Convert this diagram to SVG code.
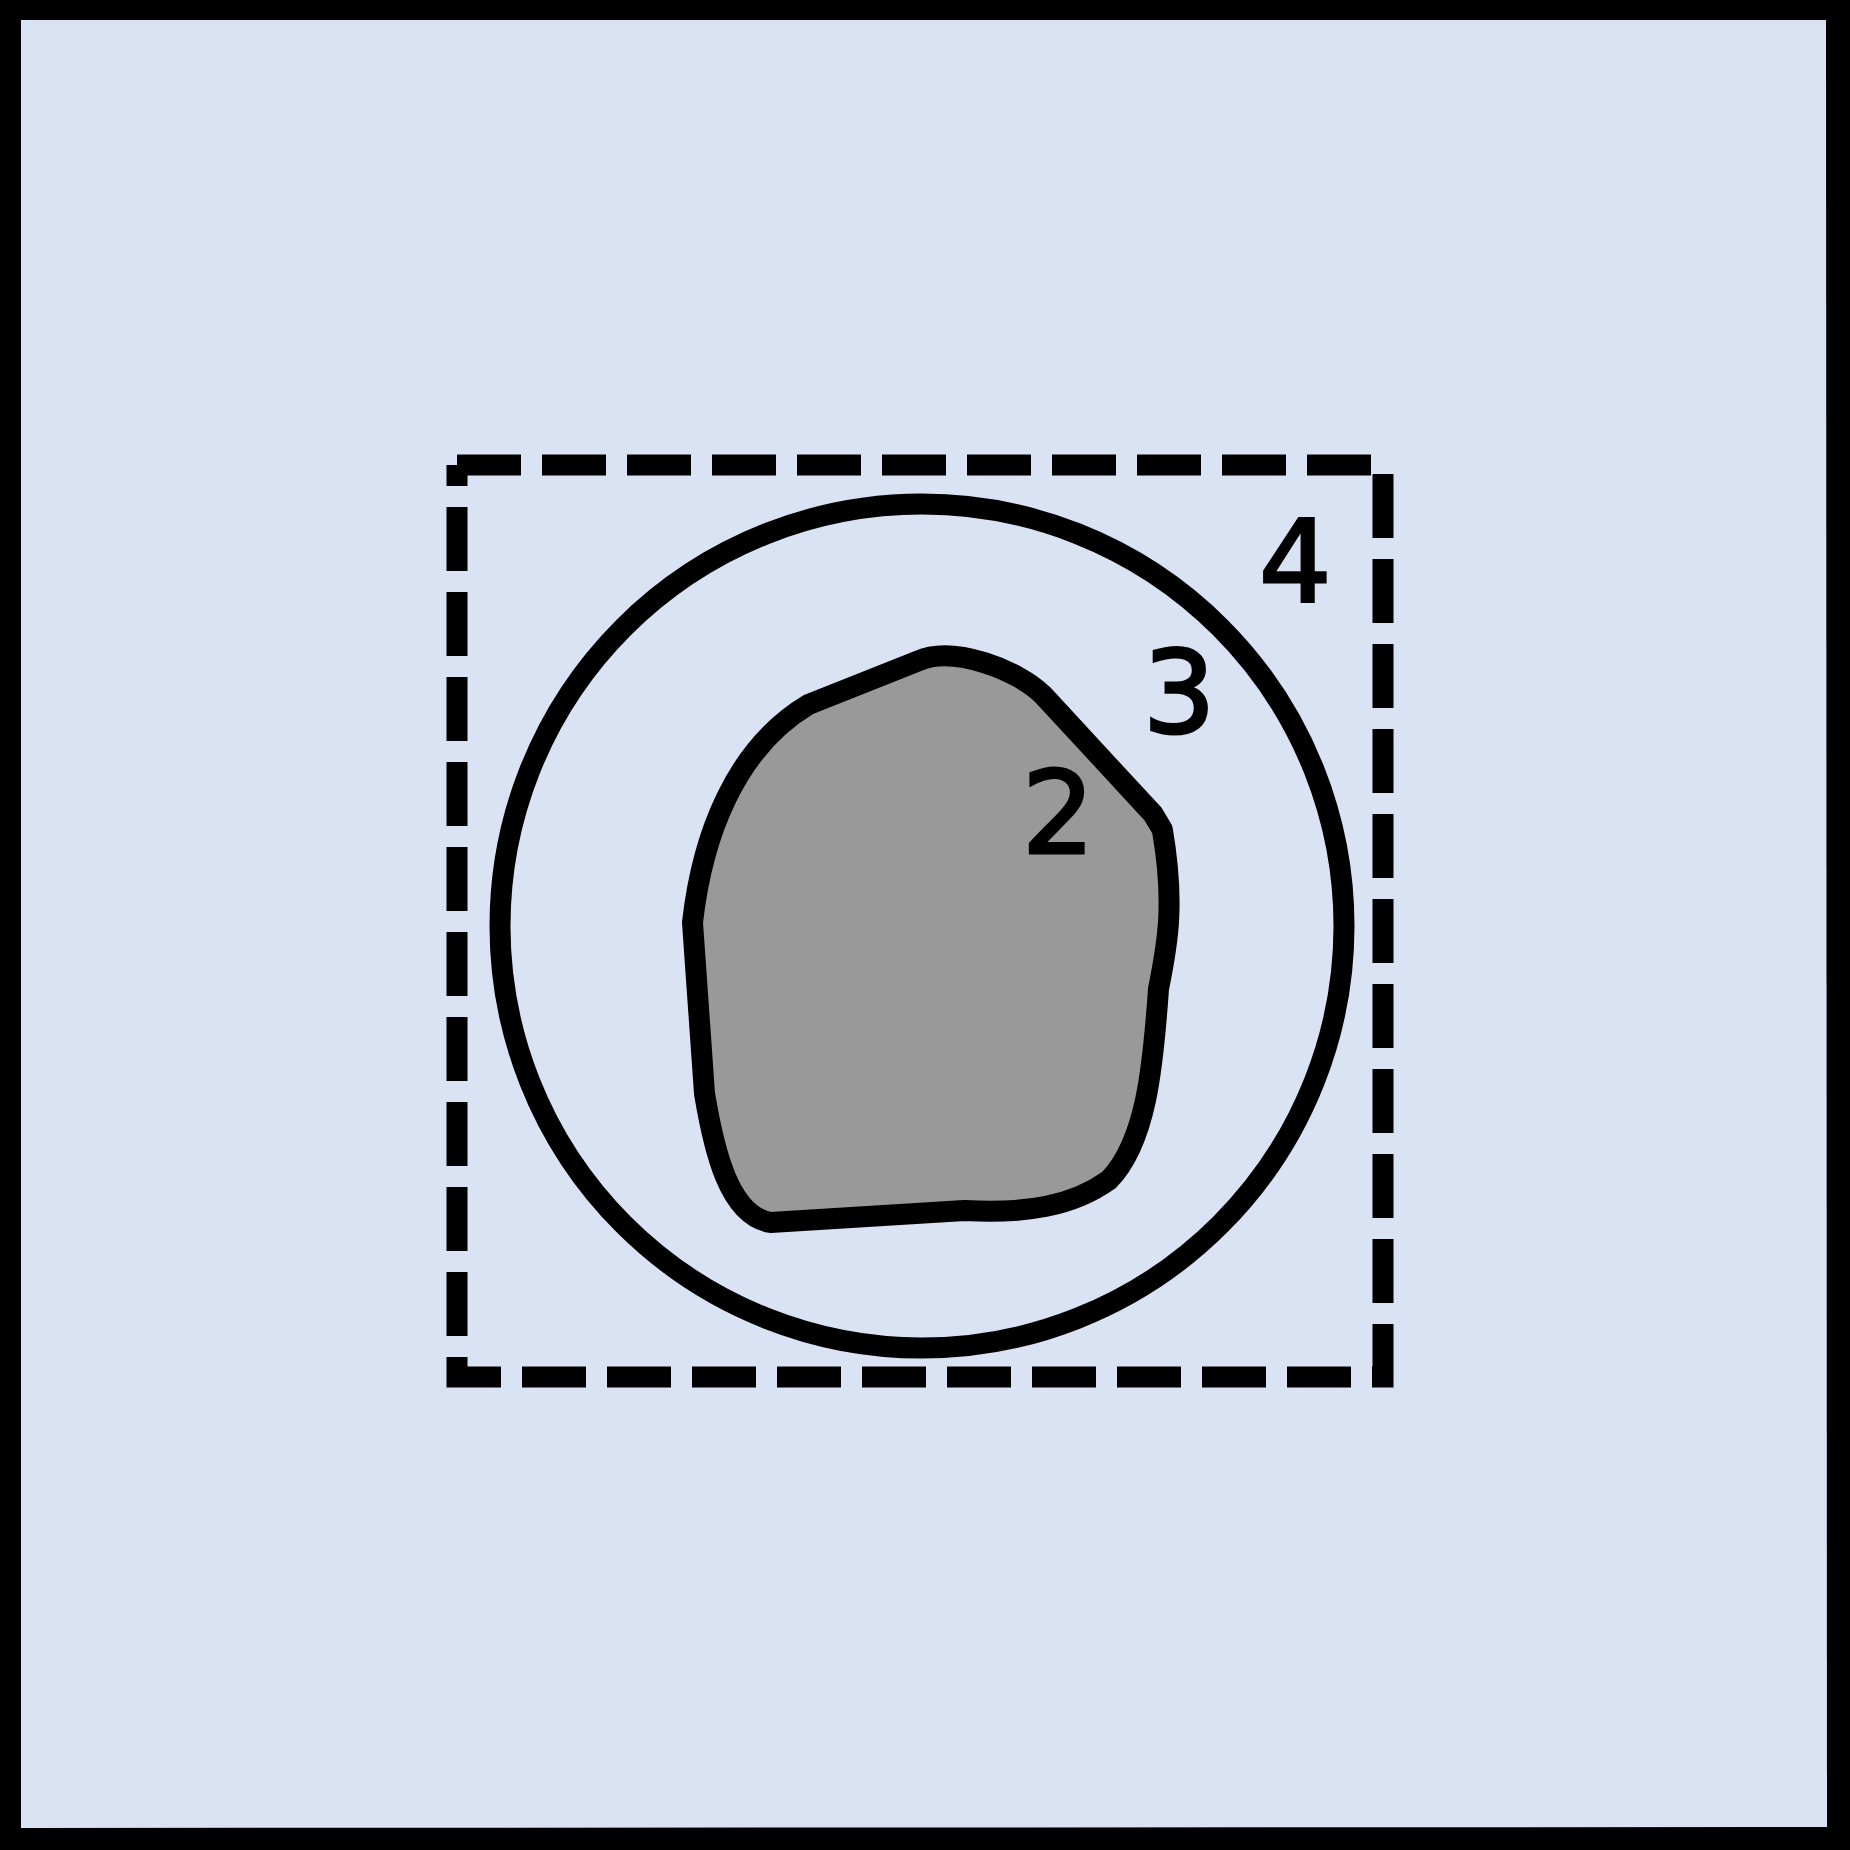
<svg xmlns="http://www.w3.org/2000/svg" width="1850" height="1850" viewBox="0 0 1850 1850">
  <style>
    .bg { fill: #000000; }
    .panel { fill: #d9e3f4; stroke: none; }
    .line { fill: none; stroke: #000000; stroke-width: 21; }
    .dashed { stroke-dasharray: 64 21; stroke-linejoin: miter; stroke-linecap: butt; }
    .blob { fill: #999999; stroke: #000000; stroke-width: 21; stroke-linejoin: round; }
    .label { font-family: "DejaVu Sans", "Liberation Sans", sans-serif; font-size: 114px; fill: #000000; stroke: #000000; stroke-width: 3; }
  </style>
  <g id="frame">
    <rect class="bg" x="0" y="0" width="1850" height="1850"/>
    <polygon class="panel" points="21,20 1826,20 1827,1827 21,1828"/>
  </g>
  <g id="node-4">
    <path class="line dashed" d="M 457,465 H 1383 V 1377 H 457 V 465"/>
    <text class="label" x="1259" y="602">4</text>
  </g>
  <g id="node-3">
    <circle class="line" cx="922" cy="926" r="422"/>
    <text class="label" x="1143" y="732">3</text>
  </g>
  <g id="node-2">
    <path class="blob" d="M 692.5,922.5 L 704.5,1093.5 C 714,1150.5 729,1215.5 770.5,1222.5 L 964.5,1210.5 C 1026.6,1214 1072.6,1206 1109,1180 C 1146,1142 1153,1068 1158.5,989 C 1166,950 1176,908.6 1162.3,829.5 L 1153,814 L 1043,695 C 1018,670 953,645 918,661 L 808.5,704.5 C 734,749 702,838 692.5,922.5 Z"/>
    <text class="label" x="1022" y="853">2</text>
  </g>
  <g id="connectors"/>
</svg>
